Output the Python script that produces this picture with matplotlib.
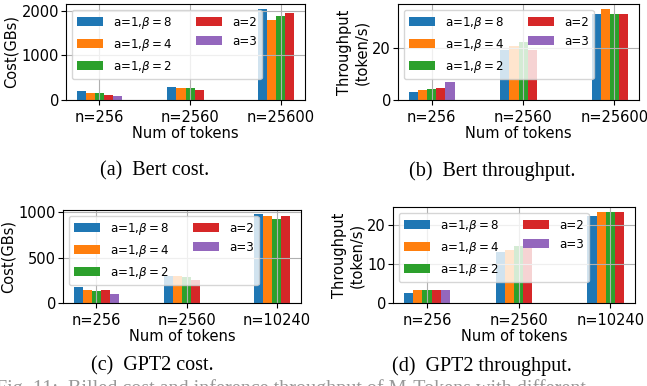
import numpy as np
import matplotlib
matplotlib.use("Agg")
import matplotlib.pyplot as plt

# group labels on the x axis
bert_tokens = ['n=256', 'n=2560', 'n=25600']
gpt2_tokens = ['n=256', 'n=2560', 'n=10240']
series_labels = ['a=1,$\\beta=8$', 'a=1,$\\beta=4$', 'a=1,$\\beta=2$', 'a=2', 'a=3']

# Bert billed cost (GBs), one list per setting; nan = not run
bert_cost_b8 = [207, 289, 2044]
bert_cost_b4 = [155, 267, 1778]
bert_cost_b2 = [155, 267, 1867]
bert_cost_a2 = [118, 222, 1956]
bert_cost_a3 = [89, np.nan, np.nan]

# Bert throughput (token/s)
bert_tput_b8 = [3.0, 19.2, 32.9]
bert_tput_b4 = [3.8, 20.8, 34.9]
bert_tput_b2 = [4.2, 22.0, 32.9]
bert_tput_a2 = [4.6, 19.2, 32.9]
bert_tput_a3 = [6.8, np.nan, np.nan]

# GPT2 billed cost (GBs)
gpt2_cost_b8 = [179, 295, 978]
gpt2_cost_b4 = [147, 293, 956]
gpt2_cost_b2 = [136, 292, 927]
gpt2_cost_a2 = [147, 256, 960]
gpt2_cost_a3 = [103, np.nan, np.nan]

# GPT2 throughput (token/s)
gpt2_tput_b8 = [2.6, 13.0, 22.3]
gpt2_tput_b4 = [3.2, 13.6, 23.2]
gpt2_tput_b2 = [3.2, 14.5, 23.4]
gpt2_tput_a2 = [3.2, 14.5, 23.2]
gpt2_tput_a3 = [3.2, np.nan, np.nan]

colors = ['#1f77b4', '#ff7f0e', '#2ca02c', '#d62728', '#9467bd']
W, H = 647, 386
width = 0.1


def draw(ax, cats, series, ylabel):
    x = np.arange(len(cats))
    for i, vals in enumerate(series):
        vals = np.asarray(vals, dtype=float)
        ok = np.isfinite(vals)
        ax.bar(x[ok] + (i - 2) * width, vals[ok], width,
               color=colors[i], label=series_labels[i])
    ax.set_xticks(x)
    ax.set_xticklabels(cats)
    ax.tick_params(labelsize=10.5)
    ax.tick_params(axis='y', pad=1.5)
    ax.set_xlabel('Num of tokens', fontsize=10.5, labelpad=1)
    ax.set_ylabel(ylabel, fontsize=10.5, labelpad=2)
    ax.grid(True)
    ax.legend(ncol=2, fontsize=8.6, loc='upper left', handlelength=2.2,
              columnspacing=2.0)


def rect(l, r, t, b):
    return [l / W, 1 - b / H, (r - l) / W, (b - t) / H]


fig = plt.figure(figsize=(W / 100, H / 100), dpi=100)
ax1 = fig.add_axes(rect(66, 305, 4, 100))
ax2 = fig.add_axes(rect(398, 639, 4, 100))
ax3 = fig.add_axes(rect(63, 301, 210, 303))
ax4 = fig.add_axes(rect(393, 635, 207, 303))

draw(ax1, bert_tokens, [bert_cost_b8, bert_cost_b4, bert_cost_b2, bert_cost_a2, bert_cost_a3], 'Cost(GBs)')
draw(ax2, bert_tokens, [bert_tput_b8, bert_tput_b4, bert_tput_b2, bert_tput_a2, bert_tput_a3], 'Throughput\n(token/s)')
draw(ax3, gpt2_tokens, [gpt2_cost_b8, gpt2_cost_b4, gpt2_cost_b2, gpt2_cost_a2, gpt2_cost_a3], 'Cost(GBs)')
draw(ax4, gpt2_tokens, [gpt2_tput_b8, gpt2_tput_b4, gpt2_tput_b2, gpt2_tput_a2, gpt2_tput_a3], 'Throughput\n(token/s)')

cap = dict(family='Liberation Serif', fontsize=14.5, ha='center', va='center')
fig.text(155 / W, 1 - 171 / H, '(a)  Bert cost.', **cap)
fig.text(492 / W, 1 - 171 / H, '(b)  Bert throughput.', **cap)
fig.text(152 / W, 1 - 366 / H, '(c)  GPT2 cost.', **cap)
fig.text(482 / W, 1 - 366 / H, '(d)  GPT2 throughput.', **cap)
fig.text(-4 / W, 1 - 379 / H, 'Fig. 11:  Billed cost and inference throughput of M-Tokens with different',
         family='Liberation Serif', fontsize=14.5, ha='left', va='top', color='0.6')

fig.savefig('out.png', dpi=100)
